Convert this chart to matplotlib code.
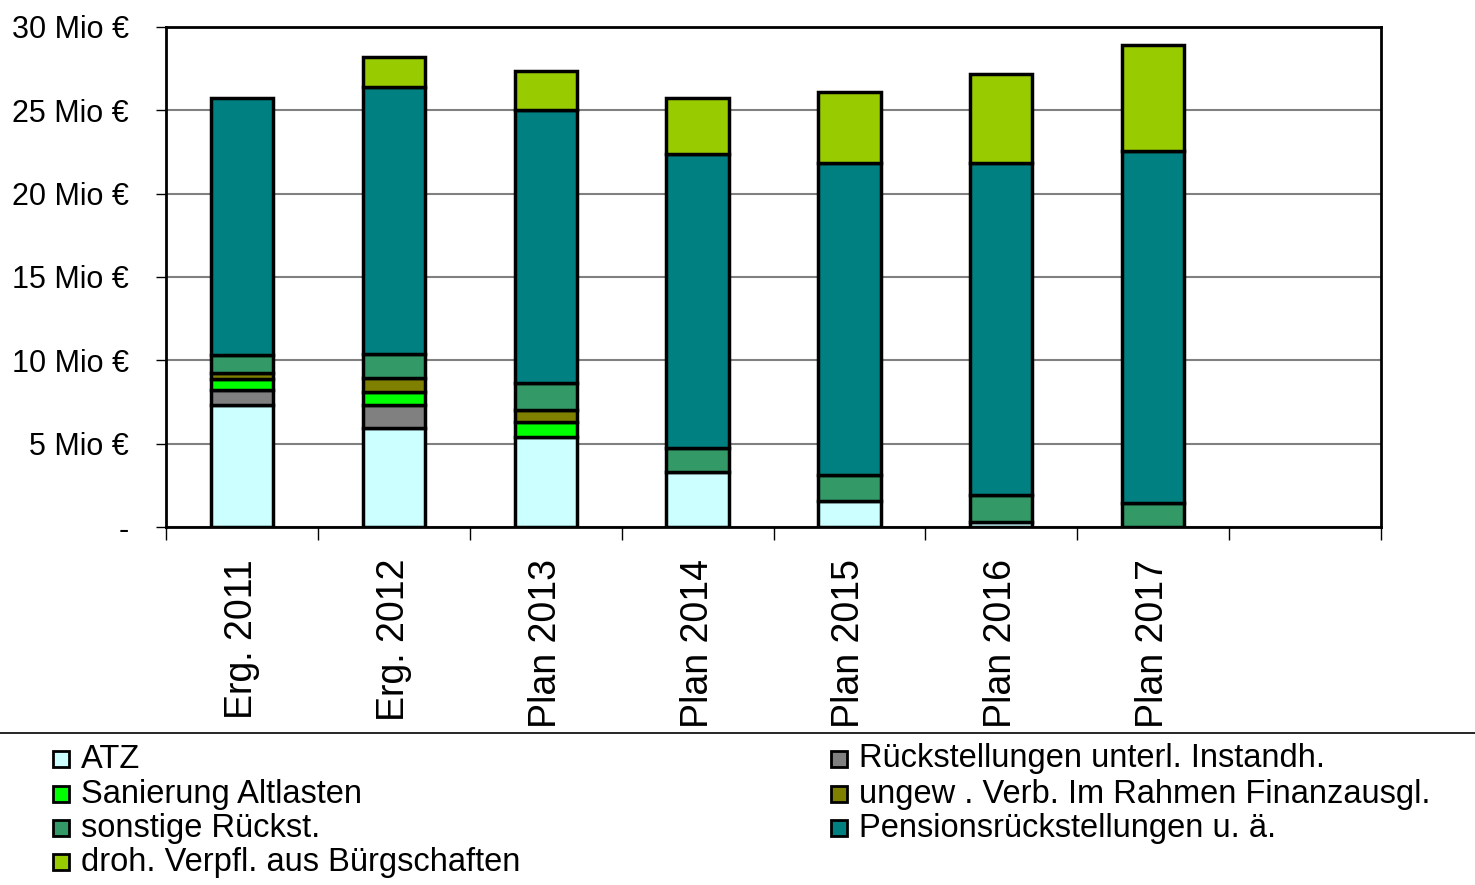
import numpy as np
import matplotlib.pyplot as plt
from matplotlib.patches import Rectangle
from matplotlib.lines import Line2D

plt.rcParams['font.family'] = ['Liberation Sans', 'DejaVu Sans']

categories = ['Erg. 2011', 'Erg. 2012', 'Plan 2013', 'Plan 2014', 'Plan 2015', 'Plan 2016', 'Plan 2017', '']

# values in Mio EUR, bottom to top
atz = [7.3, 5.95, 5.4, 3.3, 1.55, 0.3, 0.0, 0.0]
instandh = [0.9, 1.4, 0.0, 0.0, 0.0, 0.0, 0.0, 0.0]
altlasten = [0.7, 0.75, 0.9, 0.0, 0.0, 0.0, 0.0, 0.0]
finanzausgl = [0.35, 0.85, 0.7, 0.0, 0.0, 0.0, 0.0, 0.0]
sonstige = [1.1, 1.45, 1.65, 1.45, 1.6, 1.6, 1.45, 0.0]
pension = [15.4, 16.0, 16.35, 17.65, 18.7, 19.95, 21.1, 0.0]
buergsch = [0.0, 1.8, 2.35, 3.35, 4.25, 5.35, 6.35, 0.0]

series = [
    ('ATZ', atz, '#CCFFFF'),
    ('Rückstellungen unterl. Instandh.', instandh, '#808080'),
    ('Sanierung Altlasten', altlasten, '#00FF00'),
    ('ungew . Verb. Im Rahmen Finanzausgl.', finanzausgl, '#808000'),
    ('sonstige Rückst.', sonstige, '#339966'),
    ('Pensionsrückstellungen u. ä.', pension, '#008080'),
    ('droh. Verpfl. aus Bürgschaften', buergsch, '#99CC00'),
]

W, H = 1475, 885
fig = plt.figure(figsize=(W / 100, H / 100), dpi=100)
ax = fig.add_axes([166 / W, 1 - 527 / H, (1381 - 166) / W, 500 / H])

x = np.arange(len(categories))
bottom = np.zeros(len(categories))
colors = {}
for name, vals, col in series:
    vals = np.array(vals)
    m = vals > 0
    ax.bar(x[m], vals[m], 0.41, bottom=bottom[m], color=col, edgecolor='black', linewidth=2.5, zorder=3)
    colors[name] = col
    bottom += vals

ax.set_xlim(-0.5, len(categories) - 0.5)
ax.set_ylim(0, 30)
ax.set_yticks(np.arange(0, 31, 5))
ax.set_yticklabels(['-'] + ['%d Mio €' % v for v in range(5, 31, 5)], fontsize=22)
ax.yaxis.grid(True, color='#808080', linewidth=1.5, zorder=0)
ax.set_xticks(x)
ax.set_xticklabels(categories, rotation=90, fontsize=27)
ax.tick_params(axis='x', length=0, pad=23)
ax.set_xticks(np.arange(-0.5, len(categories), 1), minor=True)
ax.tick_params(axis='x', which='minor', length=9, width=1, direction='out')
ax.tick_params(axis='y', length=7, width=1, direction='out', pad=20)
for s in ax.spines.values():
    s.set_linewidth(2)

fig.add_artist(Line2D([0, 1], [1 - 733 / H, 1 - 733 / H], color='black', linewidth=1.2))

# legend, two columns
left_names = ['ATZ', 'Sanierung Altlasten', 'sonstige Rückst.', 'droh. Verpfl. aus Bürgschaften']
right_names = ['Rückstellungen unterl. Instandh.', 'ungew . Verb. Im Rahmen Finanzausgl.',
               'Pensionsrückstellungen u. ä.']
row_y = [759, 794, 828, 862]
for names, x0 in [(left_names, 53), (right_names, 831)]:
    for name, yy in zip(names, row_y):
        fig.add_artist(Rectangle((x0 / W, 1 - (yy + 8) / H), 16 / W, 16 / H,
                                 facecolor=colors[name], edgecolor='black', linewidth=2,
                                 transform=fig.transFigure))
        fig.text((x0 + 28) / W, 1 - yy / H, name, fontsize=23.5, va='center', ha='left')

fig.savefig('out.png', dpi=100)
